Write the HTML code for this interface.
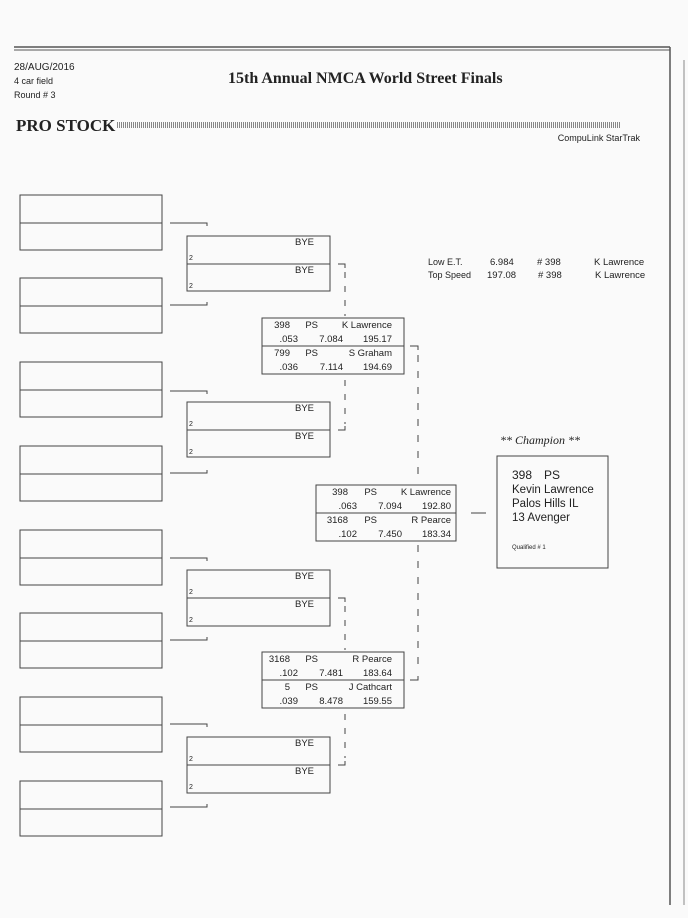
<!DOCTYPE html>
<html><head><meta charset="utf-8"><style>
body{margin:0;background:#fafafa;}
svg{display:block}
text{fill:#222}
.sans{font-family:"Liberation Sans",sans-serif}
.m{font-family:"Liberation Sans",sans-serif;font-size:9.5px;font-variant-numeric:tabular-nums}
.serif{font-family:"Liberation Serif",serif}
</style></head><body>
<svg width="688" height="918" viewBox="0 0 688 918" xmlns="http://www.w3.org/2000/svg" class="sans" font-family="Liberation Sans, sans-serif">
<rect width="688" height="918" fill="#fafafa"/>
<g stroke="#555" fill="none" stroke-width="1">
<line x1="14" y1="47" x2="670" y2="47" stroke-width="1.5"/>
<line x1="14" y1="50" x2="670" y2="50"/>
<line x1="670" y1="47" x2="670" y2="905" stroke-width="1.5"/>
<line x1="684" y1="60" x2="684" y2="905" stroke="#888"/>
<line x1="117" y1="125" x2="620" y2="125" stroke="#888" stroke-width="6" stroke-dasharray="1 1"/>
</g>
<text x="14" y="70" font-size="10">28/AUG/2016</text>
<text x="14" y="84" font-size="9">4 car field</text>
<text x="14" y="98" font-size="9">Round # 3</text>
<text x="228" y="83" font-size="16" font-weight="bold" class="serif">15th Annual NMCA World Street Finals</text>
<text x="16" y="131" font-size="17" font-weight="bold" class="serif">PRO STOCK</text>
<text x="640" y="141" font-size="9" text-anchor="end">CompuLink StarTrak</text>

<g stroke="#444" fill="none" stroke-width="1">
<rect x="20" y="195" width="142" height="55"/><line x1="20" y1="223" x2="162" y2="223"/>
<rect x="20" y="278" width="142" height="55"/><line x1="20" y1="306" x2="162" y2="306"/>
<rect x="20" y="362" width="142" height="55"/><line x1="20" y1="390" x2="162" y2="390"/>
<rect x="20" y="446" width="142" height="55"/><line x1="20" y1="474" x2="162" y2="474"/>
<rect x="20" y="530" width="142" height="55"/><line x1="20" y1="558" x2="162" y2="558"/>
<rect x="20" y="613" width="142" height="55"/><line x1="20" y1="641" x2="162" y2="641"/>
<rect x="20" y="697" width="142" height="55"/><line x1="20" y1="725" x2="162" y2="725"/>
<rect x="20" y="781" width="142" height="55"/><line x1="20" y1="809" x2="162" y2="809"/>
<path d="M170 223H207v3M170 305H207v-3"/>
<path d="M170 391H207v3M170 473H207v-3"/>
<path d="M170 558H207v3M170 640H207v-3"/>
<path d="M170 724H207v3M170 807H207v-3"/>
<rect x="187" y="236" width="143" height="55"/><line x1="187" y1="264" x2="330" y2="264"/>
<rect x="187" y="402" width="143" height="55"/><line x1="187" y1="430" x2="330" y2="430"/>
<rect x="187" y="570" width="143" height="56"/><line x1="187" y1="598" x2="330" y2="598"/>
<rect x="187" y="737" width="143" height="56"/><line x1="187" y1="765" x2="330" y2="765"/>
<path d="M338 264H345v4"/><line x1="345" y1="272" x2="345" y2="316" stroke-dasharray="6 8"/>
<path d="M338 430H345v-4"/><line x1="345" y1="380" x2="345" y2="424" stroke-dasharray="6 8"/>
<path d="M338 598H345v4"/><line x1="345" y1="606" x2="345" y2="650" stroke-dasharray="6 8"/>
<path d="M338 765H345v-4"/><line x1="345" y1="714" x2="345" y2="758" stroke-dasharray="6 8"/>
<rect x="262" y="318" width="142" height="56"/><line x1="262" y1="346" x2="404" y2="346"/>
<rect x="262" y="652" width="142" height="56"/><line x1="262" y1="680" x2="404" y2="680"/>
<path d="M410 346H418v4"/><line x1="418" y1="355" x2="418" y2="483" stroke-dasharray="7 9"/>
<path d="M410 680H418v-4"/><line x1="418" y1="545" x2="418" y2="672" stroke-dasharray="7 9"/>
<rect x="316" y="485" width="140" height="56"/><line x1="316" y1="513" x2="456" y2="513"/>
<line x1="471" y1="513" x2="486" y2="513"/>
<rect x="497" y="456" width="111" height="112"/>
</g>

<g font-size="7">
<text x="189" y="260">2</text><text x="189" y="288">2</text>
<text x="189" y="426">2</text><text x="189" y="454">2</text>
<text x="189" y="594">2</text><text x="189" y="622">2</text>
<text x="189" y="761">2</text><text x="189" y="789">2</text>
</g>
<g class="m" text-anchor="end">
<text x="314" y="245">BYE</text><text x="314" y="273">BYE</text>
<text x="314" y="411">BYE</text><text x="314" y="439">BYE</text>
<text x="314" y="579">BYE</text><text x="314" y="607">BYE</text>
<text x="314" y="746">BYE</text><text x="314" y="774">BYE</text>

<text x="290" y="328">398</text><text x="318" y="328">PS</text><text x="392" y="328">K Lawrence</text>
<text x="298" y="342">.053</text><text x="343" y="342">7.084</text><text x="392" y="342">195.17</text>
<text x="290" y="356">799</text><text x="318" y="356">PS</text><text x="392" y="356">S Graham</text>
<text x="298" y="370">.036</text><text x="343" y="370">7.114</text><text x="392" y="370">194.69</text>

<text x="290" y="662">3168</text><text x="318" y="662">PS</text><text x="392" y="662">R Pearce</text>
<text x="298" y="676">.102</text><text x="343" y="676">7.481</text><text x="392" y="676">183.64</text>
<text x="290" y="690">5</text><text x="318" y="690">PS</text><text x="392" y="690">J Cathcart</text>
<text x="298" y="704">.039</text><text x="343" y="704">8.478</text><text x="392" y="704">159.55</text>

<text x="348" y="495">398</text><text x="377" y="495">PS</text><text x="451" y="495">K Lawrence</text>
<text x="357" y="509">.063</text><text x="402" y="509">7.094</text><text x="451" y="509">192.80</text>
<text x="348" y="523">3168</text><text x="377" y="523">PS</text><text x="451" y="523">R Pearce</text>
<text x="357" y="537">.102</text><text x="402" y="537">7.450</text><text x="451" y="537">183.34</text>
</g>
<text x="428" y="265" font-size="9">Low  E.T.</text>
<text x="428" y="278" font-size="9">Top Speed</text>
<g class="m" font-size="9">
<text x="490" y="265">6.984</text><text x="537" y="265"># 398</text><text x="594" y="265">K Lawrence</text>
<text x="487" y="278">197.08</text><text x="538" y="278"># 398</text><text x="595" y="278">K Lawrence</text>
</g>
<text x="500" y="444" font-size="12" font-style="italic" class="serif">** Champion **</text>
<text x="512" y="479" font-size="12">398</text><text x="544" y="479" font-size="12">PS</text>
<text x="512" y="493" font-size="11.5">Kevin Lawrence</text>
<text x="512" y="507" font-size="11.5">Palos Hills IL</text>
<text x="512" y="521" font-size="11.5">13 Avenger</text>
<text x="512" y="549" font-size="6">Qualified # 1</text>
</svg>
</body></html>
